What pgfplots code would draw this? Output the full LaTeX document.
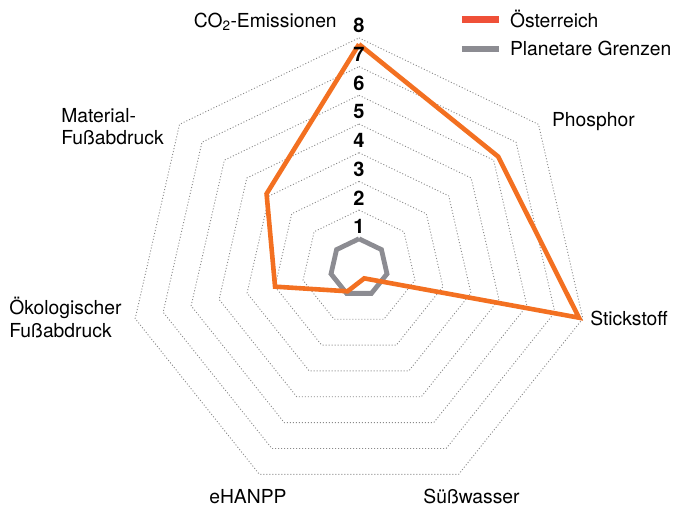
\documentclass[border=0pt]{standalone}
\usepackage{pgfplots}
\pgfplotsset{compat=1.18}
\usepackage{fontspec}
\setmainfont{TeX Gyre Heros}
\definecolor{plotorange}{HTML}{F37021}
\definecolor{legred}{HTML}{EF5038}
\definecolor{boundgrey}{HTML}{8C8C92}
\definecolor{ringgrey}{HTML}{8A8A8A}
\begin{document}
\begin{tikzpicture}
\begin{axis}[
  x=28.7bp, y=28.7bp,
  xmin=-12.509, xmax=11.010,
  ymin=-8.345, ymax=9.321,
  hide axis, clip=false,
  font=\fontsize{19.3bp}{22.5bp}\selectfont,
  legend style={at={(rel axis cs:0.679,0.984)}, anchor=north west,
    draw=none, fill=none, inner sep=0pt, row sep=8bp,
    nodes={inner sep=2bp, font=\fontsize{19.3bp}{22.5bp}\selectfont},
    /tikz/every odd column/.append style={column sep=6bp}},
  legend cell align=left,
  legend image code/.code={\draw[#1] (0bp,0bp) -- (37bp,0bp);},
]
\path (rel axis cs:0,0) rectangle (rel axis cs:1,1);
% dotted heptagonal rings
\pgfplotsinvokeforeach{1,2,3,4,5,6,7,8}{
\addplot[data cs=polar, color=ringgrey, line width=0.9bp, dash pattern=on 1bp off 2bp, forget plot]
  coordinates {(90,#1) (38.571,#1) (-12.857,#1) (-64.286,#1) (-115.714,#1) (-167.143,#1) (141.429,#1) (90,#1)};
}
% legend entries
\addlegendimage{color=legred, line width=6.5bp}
\addlegendentry{Österreich}
\addlegendimage{color=boundgrey, line width=6.5bp}
\addlegendentry{Planetare Grenzen}
% planetary boundaries
\addplot[data cs=polar, color=boundgrey, line width=4.8bp, line join=miter, forget plot]
  coordinates {(90,1) (38.571,1) (-12.857,1) (-64.286,1) (-115.714,1) (-167.143,1) (141.429,1) (90,1)};
% Austria
\addplot[data cs=polar, color=plotorange, line width=4.6bp, line join=miter, miter limit=20, forget plot]
  coordinates {(90,7.78) (38.571,6.2) (-12.857,7.86) (-64.286,0.42) (-115.714,0.92) (-167.143,3.0) (141.429,4.12) (90,7.78)};
% scale numbers
\pgfplotsinvokeforeach{1,2,3,4,5,6,7,8}{
\node[font=\fontsize{20bp}{22.5bp}\selectfont\bfseries, inner sep=0pt] at (axis cs:0,#1+0.42) {#1};
}
% category labels
\node[anchor=east, inner sep=0pt] at (axis cs:-0.77,8.55) {CO\textsubscript{2}-Emissionen};
\node[anchor=west, inner sep=0pt] at (axis cs:6.72,5.07) {Phosphor};
\node[anchor=west, inner sep=0pt] at (axis cs:8.05,-1.76) {Stickstoff};
\node[inner sep=0pt] at (axis cs:3.92,-7.97) {Süßwasser};
\node[inner sep=0pt] at (axis cs:-3.87,-7.97) {eHANPP};
\node[anchor=west, inner sep=0pt, align=left] at (axis cs:-12.19,-1.74) {Ökologischer\\Fußabdruck};
\node[anchor=west, inner sep=0pt, align=left] at (axis cs:-10.38,4.91) {Material-\\Fußabdruck};
\end{axis}
\end{tikzpicture}
\end{document}
